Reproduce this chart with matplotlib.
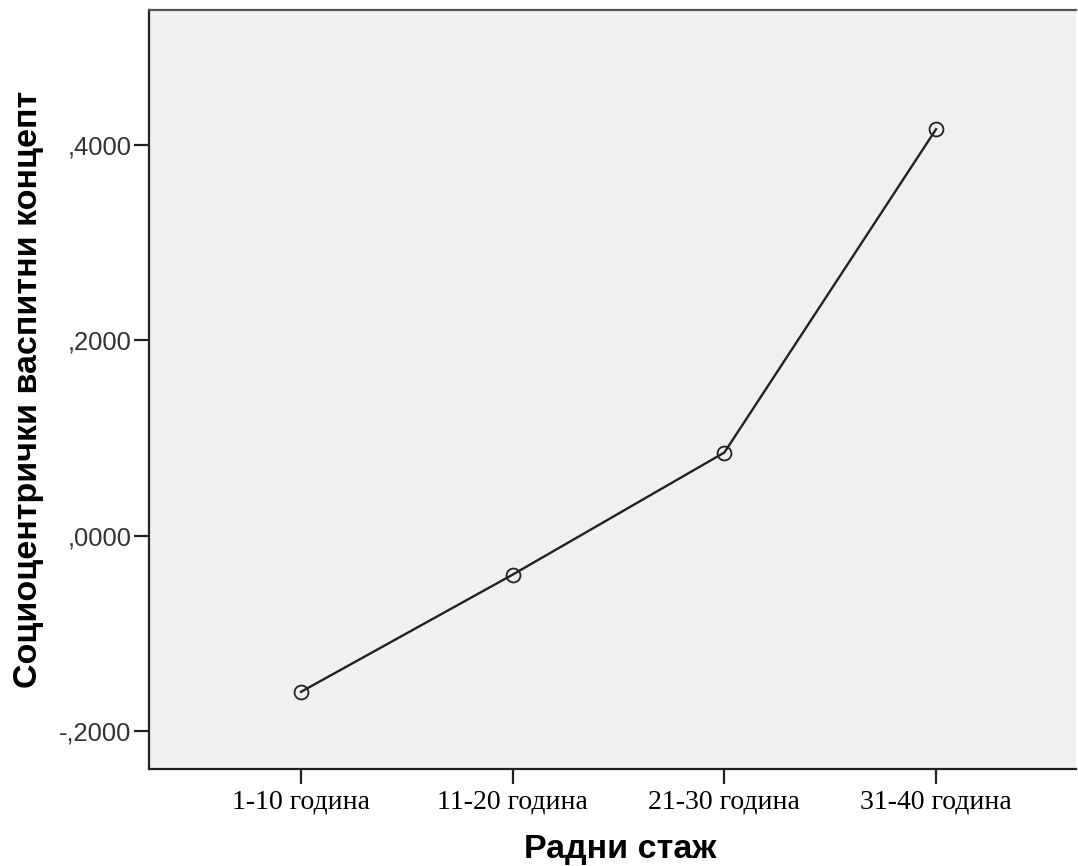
import matplotlib.pyplot as plt

# данни
categories = ['1-10 година', '11-20 година', '21-30 година', '31-40 година']
means = [-0.160, -0.040, 0.085, 0.416]
yticks = [-0.2, 0.0, 0.2, 0.4]
ytick_labels = ['-,2000', ',0000', ',2000', ',4000']

fig = plt.figure(figsize=(10.78, 8.66), dpi=100)
ax = fig.add_axes([149 / 1078, 1 - 769 / 866, (1076 - 149) / 1078, (769 - 10) / 866])
ax.set_facecolor('#f0f0f0')

x = list(range(len(categories)))
ax.plot(x, means, color='#222222', linewidth=1.7, marker='o', markersize=10,
        markerfacecolor='none', markeredgecolor='#222222', markeredgewidth=1.3)

ax.set_xlim(-0.718, 3.661)
ax.set_ylim(-0.239, 0.538)

ax.set_xticks(x)
ax.set_xticklabels(categories, fontsize=20, family='Liberation Serif')
ax.set_yticks(yticks)
ax.set_yticklabels(ytick_labels, fontsize=18.4, family='Liberation Sans', color='#333333')

ax.tick_params(axis='both', direction='out', length=10.5, width=1.6, color='#222222', pad=2)
ax.tick_params(axis='x', pad=4)

for side in ['left', 'bottom']:
    ax.spines[side].set_color('#222222')
    ax.spines[side].set_linewidth(1.6)
ax.spines['top'].set_color('#555555')
ax.spines['top'].set_linewidth(1.6)
ax.spines['right'].set_visible(False)

ax.set_xlabel('Радни стаж', fontsize=24.5, fontweight='bold', family='Liberation Sans', labelpad=15)
ax.xaxis.set_label_coords(0.508, -0.085)
ax.set_ylabel('Социоцентрички васпитни концепт', fontsize=24.5, fontweight='bold',
              family='Liberation Sans', labelpad=11)

fig.savefig('out.png', dpi=100)
